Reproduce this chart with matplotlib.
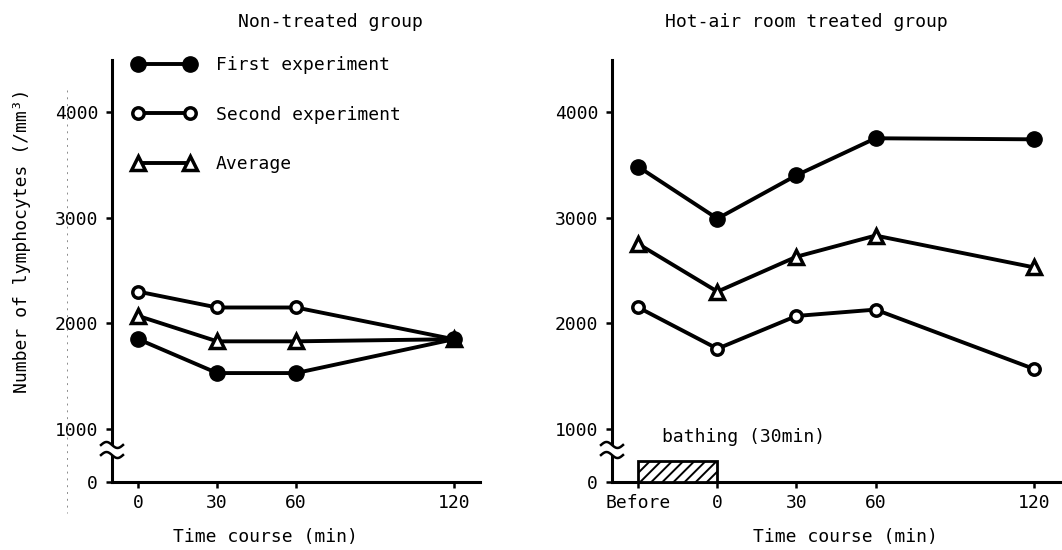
import numpy as np
import matplotlib
matplotlib.use("Agg")
import matplotlib.pyplot as plt
from matplotlib.patches import Rectangle
from matplotlib.transforms import IdentityTransform
from matplotlib.lines import Line2D

# ---- data -------------------------------------------------------------
# Non-treated group
times_ctrl = [0, 30, 60, 120]
ctrl_first = [1850, 1530, 1530, 1850]
ctrl_second = [2300, 2150, 2150, 1850]
ctrl_avg = [2070, 1830, 1830, 1850]

# Hot-air room treated group ("Before" is placed at -30 min)
times_hot = [-30, 0, 30, 60, 120]
hot_first = [3480, 2990, 3400, 3750, 3740]
hot_second = [2150, 1760, 2070, 2130, 1570]
hot_avg = [2750, 2300, 2630, 2830, 2530]

ctrl_xticklabels = ["0", "30", "60", "120"]
hot_xticklabels = ["Before", "0", "30", "60", "120"]

ytick_values = [500, 1000, 2000, 3000, 4000]     # 500 stands in for 0 below the axis break
ytick_labels = ["0", "1000", "2000", "3000", "4000"]

bath_start, bath_end = -30, 0

# ---- style ------------------------------------------------------------
FONT = "DejaVu Sans Mono"
FS = 13
plt.rcParams["font.family"] = FONT
plt.rcParams["font.size"] = FS
plt.rcParams["hatch.linewidth"] = 1.4

W, H = 1062, 550
fig = plt.figure(figsize=(W / 100, H / 100), dpi=100)

def px_axes(x0, x1, ytop, ybot):
    return fig.add_axes([x0 / W, 1 - ybot / H, (x1 - x0) / W, (ybot - ytop) / H])

ax1 = px_axes(112, 480, 60, 482)
ax2 = px_axes(612, 1060, 60, 482)

LW = 2.8
first_kw = dict(color="black", lw=LW, marker="o", ms=11, mfc="black", mec="black")
second_kw = dict(color="black", lw=LW, marker="o", ms=8.2, mfc="white", mec="black", mew=2.5)
avg_kw = dict(color="black", lw=LW, marker="^", ms=10.5, mfc="white", mec="black", mew=2.5)

def style_axes(ax, xlim, xticks, xlabels):
    ax.set_xlim(*xlim)
    ax.set_ylim(500, 4490)
    for s in ("top", "right"):
        ax.spines[s].set_visible(False)
    for s in ("left", "bottom"):
        ax.spines[s].set_linewidth(2.2)
    ax.set_xticks(xticks)
    ax.set_xticklabels(xlabels)
    ax.set_yticks(ytick_values)
    ax.set_yticklabels(ytick_labels)
    ax.tick_params(axis="both", direction="out", length=4, width=1.8, labelsize=FS)
    ax.tick_params(axis="x", pad=5)
    ax.tick_params(axis="y", pad=6)
    ax.patch.set_visible(False)

# Left panel
l_second, = ax1.plot(times_ctrl, ctrl_second, zorder=3, **second_kw)
l_avg, = ax1.plot(times_ctrl, ctrl_avg, zorder=4, **avg_kw)
l_first, = ax1.plot(times_ctrl, ctrl_first, zorder=5, **first_kw)
style_axes(ax1, (-10, 130), times_ctrl, ctrl_xticklabels)

# Right panel
ax2.plot(times_hot, hot_second, zorder=3, **second_kw)
ax2.plot(times_hot, hot_avg, zorder=4, **avg_kw)
ax2.plot(times_hot, hot_first, zorder=5, **first_kw)
style_axes(ax2, (-40, 130), times_hot, hot_xticklabels)

# Bathing period bar
ax2.add_patch(Rectangle((bath_start, 500), bath_end - bath_start, 200,
                        facecolor="white", edgecolor="black", lw=2.0,
                        hatch="///", zorder=3, clip_on=False))
ax2.text(-21, 925, "bathing (30min)", ha="left", va="center", fontsize=FS)

# Legend
ax1.legend([l_first, l_second, l_avg],
           ["First experiment", "Second experiment", "Average"],
           numpoints=2, frameon=False, fontsize=FS,
           handlelength=3.5, handletextpad=1.1, labelspacing=1.75,
           borderpad=0, borderaxespad=0,
           loc="center left", bbox_to_anchor=(132.6 / W, 1 - 114.5 / H),
           bbox_transform=fig.transFigure)

# Axis-break marks on the y axes
fig.canvas.draw()
for ax in (ax1, ax2):
    x0, yA = ax.get_yaxis_transform().transform((0, 850))
    _, yB = ax.get_yaxis_transform().transform((0, 755))
    gap = Rectangle((x0 - 3, yB), 6, yA - yB, transform=IdentityTransform(),
                    facecolor="white", edgecolor="none", zorder=6)
    fig.add_artist(gap)
    t = np.linspace(0, 1, 50)
    xs = x0 - 11 + 22 * t
    for yc in (yA, yB):
        ys = yc + 3.0 * np.sin(2 * np.pi * t)
        fig.add_artist(Line2D(xs, ys, transform=IdentityTransform(),
                              color="black", lw=1.8, zorder=7))

# Titles and axis labels
fig.text(330 / W, 1 - 22 / H, "Non-treated group", ha="center", va="center", fontsize=FS)
fig.text(806 / W, 1 - 22 / H, "Hot-air room treated group", ha="center", va="center", fontsize=FS)
fig.text(265 / W, 1 - 537 / H, "Time course (min)", ha="center", va="center", fontsize=FS)
fig.text(845 / W, 1 - 537 / H, "Time course (min)", ha="center", va="center", fontsize=FS)
fig.text(22 / W, 1 - 241 / H, "Number of lymphocytes (/mm³)", ha="center", va="center",
         rotation=90, fontsize=FS)

# Faint dotted guide line along the left margin
fig.add_artist(Line2D([67 / W, 67 / W], [1 - 90 / H, 1 - 513 / H], transform=fig.transFigure,
                      color="0.55", lw=0.7, linestyle=(0, (2, 5))))

fig.savefig("out.png", dpi=100)
